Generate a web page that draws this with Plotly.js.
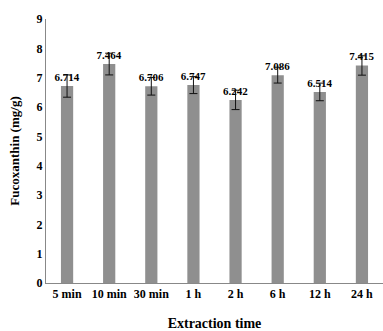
<!DOCTYPE html>
<html>
<head>
<meta charset="utf-8">
<script src="https://cdn.plot.ly/plotly-3.0.1.min.js"></script>
<style>html,body{margin:0;padding:0;background:#fff;}#chart{width:383px;height:331px;}</style>
</head>
<body>
<div id="chart"></div>
<script>
const categories = ["5 min", "10 min", "30 min", "1 h", "2 h", "6 h", "12 h", "24 h"];
const values = [6.714, 7.464, 6.706, 6.747, 6.242, 7.086, 6.514, 7.415];
const errors = [0.38, 0.37, 0.30, 0.29, 0.33, 0.27, 0.30, 0.33];
const labels = values.map(v => v.toFixed(3));

const serif = "Liberation Serif, Times New Roman, serif";

Plotly.newPlot("chart", [{
  type: "bar",
  x: categories,
  y: values,
  text: labels,
  textposition: "outside",
  constraintext: "none",
  cliponaxis: false,
  textfont: {family: serif, size: 11, color: "#000", weight: "bold"},
  outsidetextfont: {family: serif, size: 11, color: "#000", weight: "bold"},
  marker: {color: "#8f8f8f", line: {width: 0}},
  error_y: {type: "data", array: errors, visible: true, color: "#111", thickness: 1, width: 4}
}], {
  width: 383, height: 331,
  margin: {l: 46, r: 0, t: 19, b: 48},
  paper_bgcolor: "#fff", plot_bgcolor: "#fff",
  bargap: 0.71,
  showlegend: false,
  font: {family: serif, size: 12, color: "#000"},
  xaxis: {
    showline: true, linecolor: "#888", linewidth: 1,
    ticks: "", showgrid: false, zeroline: false,
    tickfont: {family: serif, size: 12, weight: "bold"},
    title: {text: "Extraction time", font: {family: serif, size: 14, weight: "bold"}, standoff: 18}
  },
  yaxis: {
    range: [0, 9], dtick: 1, showline: true, linecolor: "#888", linewidth: 1,
    ticks: "", showgrid: false, zeroline: false, ticklen: 0,
    tickfont: {family: serif, size: 12, weight: "bold"},
    title: {text: "Fucoxanthin (mg/g)", font: {family: serif, size: 13, weight: "bold"}, standoff: 14}
  }
}, {displayModeBar: false, staticPlot: true});
</script>
</body>
</html>
